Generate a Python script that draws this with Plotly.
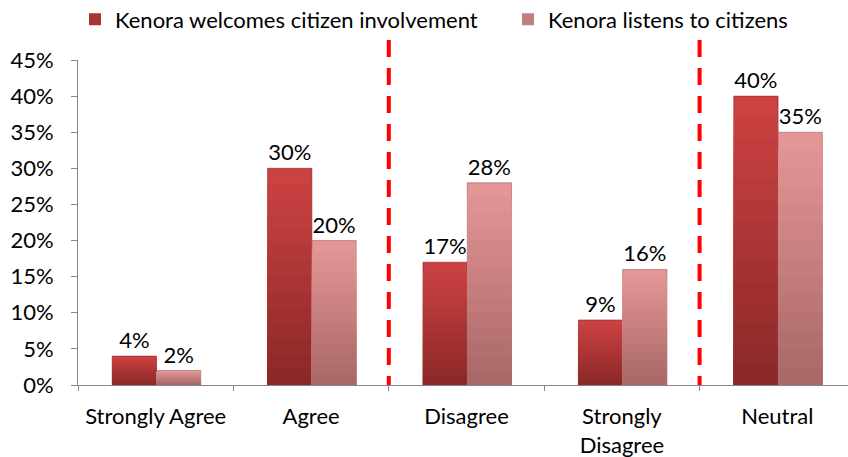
import plotly.graph_objects as go

# Survey responses
categories = ["Strongly Agree", "Agree", "Disagree", "Strongly<br>Disagree", "Neutral"]
welcomes = [0.04, 0.30, 0.17, 0.09, 0.40]
listens = [0.02, 0.20, 0.28, 0.16, 0.35]
series_names = ["Kenora welcomes citizen involvement", "Kenora listens to citizens"]

FONT = "Lato"
FSIZE = 22
N_LAYERS = 14


def blend(c0, c1, t):
    return "rgb(%d,%d,%d)" % tuple(round(a + (b - a) * t) for a, b in zip(c0, c1))


series = [
    dict(name=series_names[0], values=welcomes, top=(204, 66, 66), bottom=(140, 40, 40),
         edge="rgba(120,30,30,0.55)", offset=-0.28, legend="legend", lx=75),
    dict(name=series_names[1], values=listens, top=(228, 150, 150), bottom=(170, 104, 104),
         edge="rgba(150,85,85,0.55)", offset=0.005, legend="legend2", lx=508),
]

fig = go.Figure()
for s in series:
    # Vertical gradient: each layer covers a lower fraction of the bar in a darker shade
    for k in range(N_LAYERS):
        frac = 1 - k / N_LAYERS
        t = k / (N_LAYERS - 1)
        first = k == 0
        fig.add_trace(go.Bar(
            x=categories,
            y=[v * frac for v in s["values"]],
            name=s["name"],
            legend=s["legend"],
            legendgroup=s["name"],
            showlegend=(k == N_LAYERS // 2),
            width=0.285,
            offset=s["offset"],
            marker=dict(color=blend(s["top"], s["bottom"], t),
                        line=dict(color=s["edge"] if first else "rgba(0,0,0,0)", width=1 if first else 0)),
            text=[f"{round(v * 100)}%" for v in s["values"]] if first else None,
            textposition="outside" if first else "none",
            textfont=dict(family=FONT, size=FSIZE, color="#000000"),
            cliponaxis=False,
            hoverinfo="skip",
        ))

# Dashed dividers between response groups (drawn from the top down)
for boundary in (1.5, 3.5):
    fig.add_shape(type="line", xref="x", yref="paper", x0=boundary, x1=boundary,
                  y0=1.0615, y1=0, line=dict(color="#FF0000", width=4, dash="17px,11px"))

legend_style = dict(orientation="h", xref="container", yref="container",
                    xanchor="left", yanchor="middle", y=1 - 19.5 / 457,
                    font=dict(family=FONT, size=FSIZE), itemclick=False,
                    bgcolor="rgba(0,0,0,0)")

fig.update_layout(
    width=848, height=457,
    margin=dict(l=78, r=0, t=60, b=72),
    barmode="overlay",
    plot_bgcolor="white", paper_bgcolor="white",
    font=dict(family=FONT, size=FSIZE, color="#000000"),
    showlegend=True,
    legend=dict(x=series[0]["lx"] / 848, **legend_style),
    legend2=dict(x=series[1]["lx"] / 848, **legend_style),
)
fig.update_xaxes(type="category", range=[-0.5, 4.455], showline=True, linecolor="#868686",
                 linewidth=1, ticks="outside", tickson="boundaries", ticklen=5,
                 tickcolor="#868686", showgrid=False, tickfont=dict(family=FONT, size=FSIZE),
                 ticklabelstandoff=12)
fig.update_yaxes(range=[0, 0.45], dtick=0.05, tickformat=".0%", showline=True,
                 linecolor="#868686", linewidth=1, ticks="outside", ticklen=6,
                 tickcolor="#868686", showgrid=False, zeroline=False,
                 tickfont=dict(family=FONT, size=FSIZE), ticklabelstandoff=13)

fig.write_html("out.html")
